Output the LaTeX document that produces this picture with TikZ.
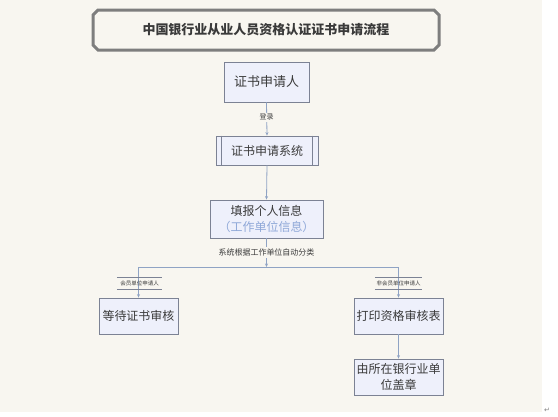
\documentclass[tikz,border=0pt]{standalone}
\usepackage{fontspec}
\newfontfamily\cjk{Noto Sans CJK SC}
\newfontfamily\dejavu{DejaVu Sans}
\usetikzlibrary{arrows.meta}
\definecolor{bgc}{HTML}{F8F6F0}
\definecolor{boxfill}{HTML}{EEF0FB}
\definecolor{boxline}{HTML}{7C8294}
\definecolor{txt}{HTML}{3A3A3A}
\definecolor{bluetxt}{HTML}{8FA8D8}
\definecolor{conn}{HTML}{8FA3C4}
\definecolor{framec}{HTML}{7E7E7E}
\tikzset{
  procbox/.style={draw=boxline, fill=boxfill, line width=0.8pt, inner sep=0pt, align=center, text=txt, font=\cjk\fontsize{12}{15}\selectfont},
  conline/.style={draw=conn, line width=0.8pt},
  conarrow/.style={conline, -{Stealth[length=3.5pt,width=3pt]}},
  smalllabel/.style={text=txt, inner sep=1.5pt, fill=bgc},
  storelabel/.style={text=txt, inner sep=0pt, minimum height=11pt, font=\cjk\fontsize{5.5}{6}\selectfont}
}
\begin{document}
\begin{tikzpicture}[x=1pt,y=-1pt]
\useasboundingbox (0,0) rectangle (558,416);
\fill[white] (0,0) rectangle (558,416);
\fill[bgc] (0,0) rectangle (542,412);
% title plaque
\draw[framec, line width=3pt, line join=miter]
  (98,10) -- (434,10) -- (439,15) -- (439,45) -- (434,50) -- (98,50) -- (93,45) -- (93,15) -- cycle;
\node (title) at (266,30) {\cjk\bfseries\fontsize{13}{15}\selectfont\color{txt}中国银行业从业人员资格认证证书申请流程};
% nodes
\node[procbox, minimum width=85pt, minimum height=40pt, font=\cjk\fontsize{13}{15}\selectfont] (n1) at (266.5,82) {证书申请人};
\node[procbox, minimum width=102pt, minimum height=29pt] (n2) at (267,150.5) {证书申请系统};
\draw[boxline, line width=0.8pt] ([xshift=6pt]n2.north west) -- ([xshift=6pt]n2.south west)
  ([xshift=-6pt]n2.north east) -- ([xshift=-6pt]n2.south east);
\node[procbox, minimum width=113pt, minimum height=38pt, font=\cjk\fontsize{12}{16}\selectfont] (n3) at (266.5,219) {填报个人信息\\{\color{bluetxt}（工作单位信息）}};
\node[procbox, minimum width=79pt, minimum height=36pt] (n4) at (138.5,316) {等待证书审核};
\node[procbox, minimum width=89pt, minimum height=36pt] (n5) at (398.5,316) {打印资格审核表};
\node[procbox, minimum width=89pt, minimum height=36pt, font=\cjk\fontsize{12}{16}\selectfont] (n6) at (398.5,377) {由所在银行业单\\位盖章};
% junction coordinates
\coordinate (jm) at (266.5,267);
\coordinate (jl) at (138.5,267);
\coordinate (jr) at (398.5,267);
% connectors
\draw[conarrow] (n1.south) -- (n2.north) node[pos=0.45, smalllabel, font=\cjk\fontsize{7}{8}\selectfont] (l1) {登录};
\draw[conarrow] (n2.south) -- (n3.north);
\draw[conarrow] (n3.south) -- (jm) node[pos=0.5, smalllabel, font=\cjk\fontsize{8}{9}\selectfont] (l2) {系统根据工作单位自动分类};
\draw[conline] (jl) -- (jr);
\draw[conarrow] (jl) -- (n4.north);
\draw[conarrow] (jr) -- (n5.north);
\draw[conarrow] (n5.south) -- (n6.north);
% data-store style labels
\node[storelabel, minimum width=45pt] (l3) at (139.5,283.5) {会员单位申请人};
\draw[boxline, line width=0.7pt] (l3.north west) -- (l3.north east) (l3.south west) -- (l3.south east);
\node[storelabel, minimum width=47pt] (l4) at (398.5,283.5) {非会员单位申请人};
\draw[boxline, line width=0.7pt] (l4.north west) -- (l4.north east) (l4.south west) -- (l4.south east);
% paragraph mark
\node[text=gray, inner sep=0pt, font=\dejavu\fontsize{7}{8}\selectfont] (pm) at (547,410) {↵};
\end{tikzpicture}
\end{document}
